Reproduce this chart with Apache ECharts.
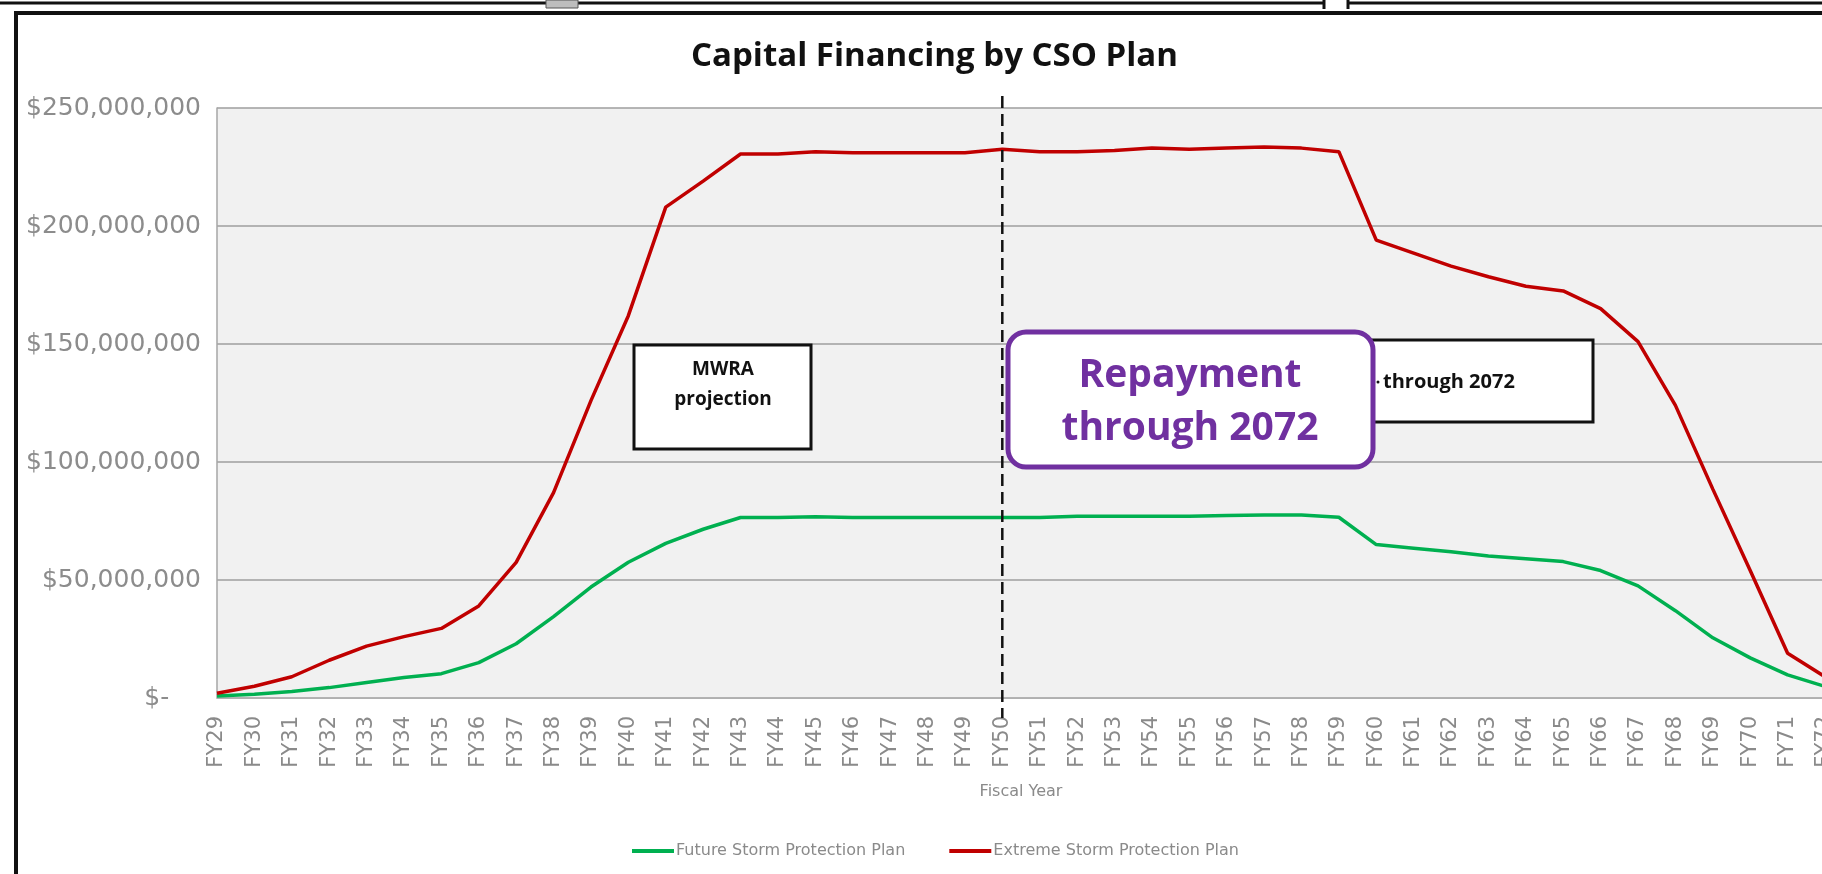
<!DOCTYPE html>
<html><head><meta charset="utf-8">
<script src="https://cdn.jsdelivr.net/npm/echarts@6/dist/echarts.min.js"></script>
<style>html,body{margin:0;padding:0;background:#fff;overflow:hidden}#c{width:1822px;height:874px}</style>
</head><body><div id="c"></div>
<script>
// ---- data (values in millions of dollars) ----
const fiscalYears = ['FY29','FY30','FY31','FY32','FY33','FY34','FY35','FY36','FY37','FY38','FY39','FY40','FY41','FY42','FY43','FY44','FY45','FY46','FY47','FY48','FY49','FY50','FY51','FY52','FY53','FY54','FY55','FY56','FY57','FY58','FY59','FY60','FY61','FY62','FY63','FY64','FY65','FY66','FY67','FY68','FY69','FY70','FY71','FY72'];
const futureStormPlanM = [0.8,1.6,2.8,4.4,6.6,8.7,10.3,15,23,34.5,47,57.5,65.5,71.5,76.5,76.5,76.8,76.5,76.5,76.5,76.5,76.5,76.5,77,77,77,77,77.3,77.5,77.5,76.6,65,63.5,62,60.2,59,57.8,54,47.5,37,25.5,17,9.8,4.9];
const extremeStormPlanM = [2,5,9,16,22,26,29.5,39,57.5,87,126,162,208,219,230.5,230.5,231.5,231,231,231,231,232.5,231.5,231.5,232,233,232.5,233,233.5,233,231.5,194,188.5,183,178.5,174.5,172.5,165,151,124,88.5,54,19,9];
const yTickValues = [0, 50000000, 100000000, 150000000, 200000000, 250000000];
const seriesNames = ['Future Storm Protection Plan', 'Extreme Storm Protection Plan'];
const markerYear = 'FY50';

const MILLION = 1000000;
const chart = echarts.init(document.getElementById('c'), null, {renderer: 'canvas'});

function yLabel(v) {
  if (v === 0) return '$-    ';
  return '$' + v.toLocaleString('en-US');
}

const baseOption = {
  animation: false,
  backgroundColor: '#ffffff',
  title: {
    text: 'Capital Financing by CSO Plan',
    left: 686, top: 35,
    textStyle: {fontFamily: 'Open Sans', fontWeight: 'bold', fontSize: 33, color: '#111'}
  },
  legend: {
    data: seriesNames,
    left: 627, top: 838,
    icon: 'rect', itemWidth: 42, itemHeight: 4, itemGap: 44,
    textStyle: {fontFamily: 'DejaVu Sans', fontSize: 16, color: '#8a8a8a', padding: [0,0,0,-3]}
  },
  grid: {
    left: 217, right: -3, top: 108, bottom: 176,
    show: true, backgroundColor: '#f1f1f1', borderWidth: 0,
    containLabel: false, outerBoundsMode: 'none'
  },
  xAxis: {
    type: 'category',
    data: fiscalYears,
    boundaryGap: false,
    name: 'Fiscal Year',
    nameLocation: 'middle',
    nameGap: 86,
    nameTextStyle: {fontFamily: 'DejaVu Sans', fontSize: 16, color: '#8a8a8a'},
    axisLine: {show: true, lineStyle: {color: '#b0b0b0', width: 1}},
    axisTick: {show: false},
    axisLabel: {interval: 0, rotate: 90, margin: 18, fontFamily: 'DejaVu Sans', fontSize: 21, color: '#8a8a8a'},
    splitLine: {show: false}
  },
  yAxis: {
    type: 'value',
    min: 0, max: 250000000, interval: 50000000,
    axisLine: {show: true, lineStyle: {color: '#a6a6a6', width: 1.5}},
    axisTick: {show: false},
    axisLabel: {
      margin: 16, fontFamily: 'DejaVu Sans', fontSize: 25, color: '#8c8c8c',
      formatter: function (v) { return yTickValues.indexOf(v) >= 0 ? yLabel(v) : ''; }
    },
    splitLine: {show: true, lineStyle: {color: '#9e9e9e', width: 1.5}}
  },
  series: [
    {
      name: seriesNames[0], type: 'line', symbol: 'none', smooth: false,
      data: futureStormPlanM.map(v => v * MILLION),
      lineStyle: {color: '#00B050', width: 3.5},
      itemStyle: {color: '#00B050'}, z: 3
    },
    {
      name: seriesNames[1], type: 'line', symbol: 'none', smooth: false,
      data: extremeStormPlanM.map(v => v * MILLION),
      lineStyle: {color: '#C00000', width: 3.5},
      itemStyle: {color: '#C00000'}, z: 4
    }
  ]
};
chart.setOption(baseOption);

const xFY50 = chart.convertToPixel({xAxisIndex: 0}, markerYear);

function txt(text, x, y, font, fill, align, z) {
  return {type: 'text', z: z || 120, style: {text: text, x: x, y: y, font: font, fill: fill,
    textAlign: align || 'center', align: align || 'center', textVerticalAlign: 'middle', verticalAlign: 'middle'}};
}

chart.setOption({
  graphic: [
    // surrounding document frame lines
    {type: 'line', z: 50, shape: {x1: 0, y1: 3, x2: 1325, y2: 3}, style: {stroke: '#111', lineWidth: 3}},
    {type: 'rect', z: 51, shape: {x: 546, y: 0, width: 32, height: 8}, style: {fill: '#bdbdbd', stroke: '#555', lineWidth: 1}},
    {type: 'line', z: 50, shape: {x1: 1324, y1: 0, x2: 1324, y2: 9}, style: {stroke: '#111', lineWidth: 3}},
    {type: 'line', z: 50, shape: {x1: 1348, y1: 0, x2: 1348, y2: 9}, style: {stroke: '#111', lineWidth: 3}},
    {type: 'line', z: 50, shape: {x1: 1348, y1: 3, x2: 1822, y2: 3}, style: {stroke: '#111', lineWidth: 3}},
    {type: 'line', z: 50, shape: {x1: 14, y1: 13, x2: 1822, y2: 13}, style: {stroke: '#111', lineWidth: 4}},
    {type: 'line', z: 50, shape: {x1: 16, y1: 11, x2: 16, y2: 874}, style: {stroke: '#111', lineWidth: 4}},
    // dashed marker at FY50
    {type: 'line', z: 110, shape: {x1: xFY50, y1: 96, x2: xFY50, y2: 718},
      style: {stroke: '#111', lineWidth: 2.5, lineDash: [12, 6]}},
    // MWRA projection box
    {type: 'rect', z: 115, shape: {x: 634, y: 345, width: 177, height: 104},
      style: {fill: '#ffffff', stroke: '#111', lineWidth: 3}},
    txt('MWRA', 723, 370, 'bold 19px "Open Sans"', '#111'),
    txt('projection', 723, 400, 'bold 19px "Open Sans"', '#111'),
    // black box behind the purple one
    {type: 'rect', z: 112, shape: {x: 1200, y: 340, width: 393, height: 82},
      style: {fill: '#ffffff', stroke: '#111', lineWidth: 3}},
    txt('through 2072', 1383, 382, 'bold 20px "Open Sans"', '#111', 'left', 113),
    {type: 'circle', z: 113, shape: {cx: 1378, cy: 382, r: 1.5}, style: {fill: '#111'}},
    // purple Repayment box
    {type: 'rect', z: 116, shape: {x: 1008, y: 332, width: 365, height: 135, r: 18},
      style: {fill: '#ffffff', stroke: '#7030A0', lineWidth: 5}},
    txt('Repayment', 1190, 376, 'bold 39px "Open Sans"', '#7030A0', 'center', 117),
    txt('through 2072', 1190, 429, 'bold 39px "Open Sans"', '#7030A0', 'center', 117)
  ]
});
</script>
</body></html>
